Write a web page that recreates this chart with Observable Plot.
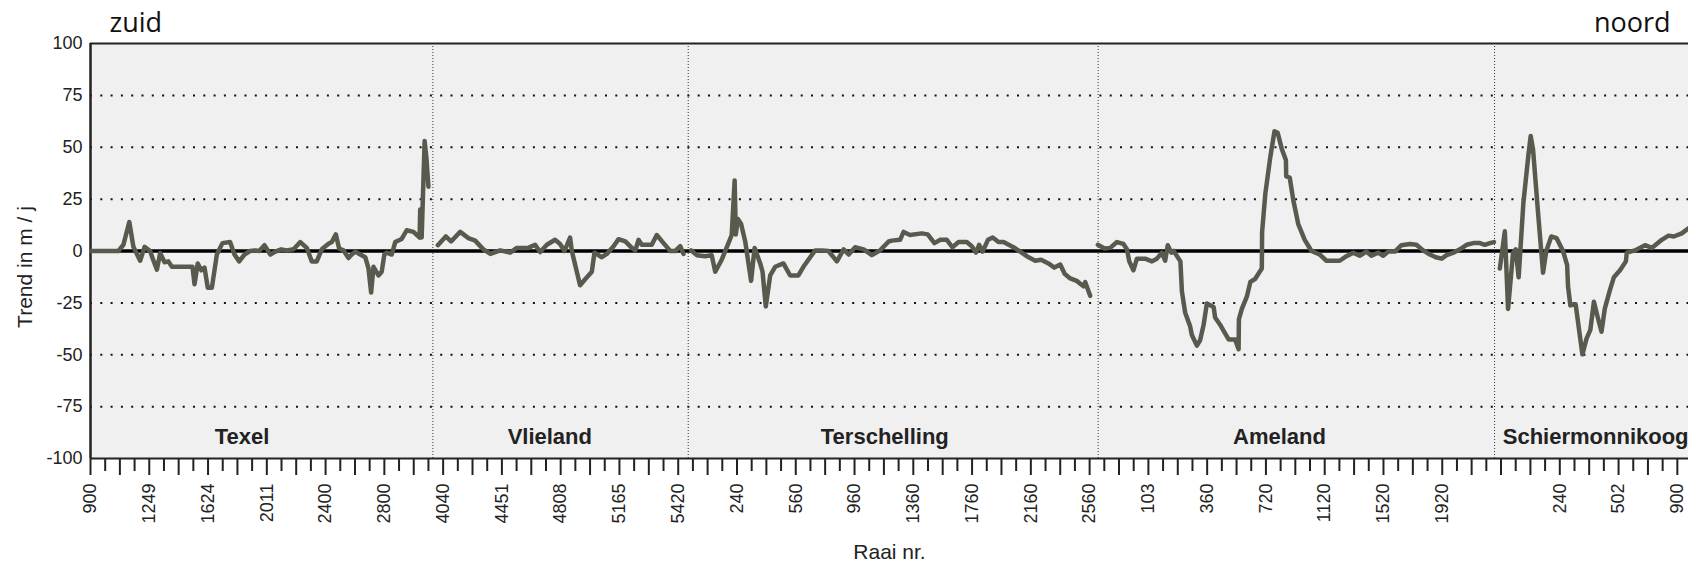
<!DOCTYPE html>
<html><head><meta charset="utf-8">
<script src="https://cdn.jsdelivr.net/npm/d3@7"></script>
<script src="https://cdn.jsdelivr.net/npm/@observablehq/plot@0.6"></script>
<style>
html,body{margin:0;padding:0;background:#fff;}
#chart{width:1688px;height:565px;overflow:hidden;}
</style></head><body><div id="chart"></div>
<script>
// x = position along the coast (category index), y = trend in m / j
const texel = [[0,0],[9.5,0],[11.2,3],[13.2,14],[14.6,2],[16.9,-4.7],[18.4,2],[20.3,0],[21.1,-3.4],[22.6,-9],[23.7,-1],[25.2,-5.4],[26.5,-5],[27.7,-7.6],[34.7,-7.6],[35.4,-16],[36.5,-6],[37.7,-9.3],[38.8,-8],[39.9,-17.7],[41.3,-17.7],[43,-1.7],[44.9,3.8],[47.5,4.3],[49,-1.7],[50.6,-5],[52.4,-1.7],[54.3,0],[56,0.3],[57.4,0],[59.2,2.8],[61.2,-1.7],[62.9,-0.3],[64.9,0.8],[66.8,0.3],[69.1,0.8],[71.4,4.3],[73.6,1.5],[75.3,-5],[77,-5],[78.7,0.8],[81,3.5],[82.1,4.3],[83.5,8],[84.6,1.2],[86.1,0.3],[87.8,-3.4],[88.9,-1.7],[90.1,-0.3],[91.8,-1.7],[93.5,-3],[94.6,-8.4],[95.5,-20],[96.3,-7.6],[98,-11.8],[99.1,-10],[100,-1.7],[100.8,-0.8],[102.5,-1.7],[103.7,4.3],[105.9,5.8],[107.6,10],[109.9,9.2],[112,6.5],[112.2,20],[112.7,6.5],[113.7,53],[114.3,45],[115,31]];
const vlieland = [[118.2,2.8],[120.9,7],[122.7,4.6],[125.8,9.2],[128.6,6.2],[130.9,5],[133.7,0.8],[136.1,-1.4],[139.4,0.3],[142.8,-0.8],[145.1,1.5],[149,1.5],[151.3,3],[153,-0.5],[155.3,3],[158.1,5.4],[159.8,3.4],[161.3,0],[163.2,6.5],[163.8,0],[166.6,-16.5],[168.4,-13.5],[170.6,-10],[171.5,-0.8],[174,-3],[175.7,-1.4],[178,2.3],[179.7,5.7],[182,4.6],[184.2,1.5],[185.4,0.3],[186.5,5.4],[187.6,3],[191,3],[192.7,7.7],[195,3.8],[197.3,0],[199,0],[200.7,2.3],[201.8,-1.4]];
const terschelling = [[204.4,0.3],[206.3,-2],[209.2,-2.5],[211.4,-2],[212.6,-10],[214.8,-4.2],[217.1,3.8],[218.2,7.7],[219.2,34],[219.6,8],[220.3,15.4],[221.4,13],[222.8,4.6],[224.8,-14.4],[226,1.5],[227.9,-6],[228.7,-10],[229.8,-26.7],[231.3,-11.8],[233,-7.6],[235.8,-6],[238.1,-11.8],[240.9,-11.8],[242.6,-7.6],[244.3,-4.2],[246.6,0.3],[248.9,0.3],[251.1,0],[254,-5],[256.3,0.8],[258,-1.7],[260.2,1.8],[263.1,0.8],[265.9,-2],[268.7,0.3],[271.6,4.6],[272.7,5],[275.5,5.4],[276.7,9.2],[278.9,7.7],[282.9,8.5],[284.9,8],[287.2,3.8],[289.2,5.4],[291.4,5.4],[293.3,1.8],[295.4,4.3],[298.2,4.3],[299.9,2.3],[301.3,-0.8],[302.4,3],[303.6,-0.3],[305.4,5.4],[307,6.5],[309,4.3],[310.7,4.3],[314.1,1.8],[316.4,-0.3],[318.6,-2.5],[321.5,-4.7],[323.5,-4.2],[326,-6],[328,-8],[330,-6.5],[331.5,-11],[333.4,-13.2],[335.6,-14.4],[337.9,-17],[338.5,-15],[340.2,-21.6]];
const ameland = [[342.8,3],[345.1,1.2],[347,1.5],[349.3,4.3],[351.5,3.4],[352.7,0.8],[353.5,-5],[354.9,-9.3],[356.1,-3.7],[358.9,-3.7],[361.2,-5],[362.9,-3.7],[364.6,-0.8],[365.7,-4.7],[366.6,2.8],[367.8,-0.8],[368.6,0],[370.9,-5],[371.4,-19.4],[372.5,-29.6],[374.2,-36.3],[374.8,-40.5],[376.5,-45.6],[377.6,-43],[378.8,-35.5],[379.9,-25.3],[382.2,-27],[382.7,-32],[384.4,-35.5],[386.1,-39.7],[387.3,-42.6],[389.5,-42.6],[390.7,-47.3],[390.8,-33],[391.8,-27.9],[393.5,-22],[394.7,-14.9],[396.3,-13.5],[398.6,-8.4],[398.7,9.2],[399.8,27.7],[401.5,45.4],[402.9,57.7],[404,57],[405.4,49.2],[406.8,43.8],[406.9,36],[408.1,35.4],[409.3,24.6],[411,13],[413.2,5.4],[415.5,0],[418.3,-1.7],[420.6,-4.7],[425.1,-4.7],[427.4,-2.5],[429.7,-0.8],[431.9,-2.3],[434.2,-0.3],[435.9,-2.3],[438.2,-0.8],[439.9,-2.3],[441.6,-0.3],[443.9,-0.3],[446.1,2.8],[449,3.4],[451.2,3],[453.5,0.3],[455.8,-1.7],[457.8,-3],[459.8,-3.7],[461.5,-2],[463.8,-0.8],[466,0.8],[468.3,3],[470.6,3.8],[472.8,3.8],[474.5,3],[476.2,3.8],[477.6,4.3]];
const schiermonnikoog = [[479.6,-8.4],[481.3,9.5],[482.4,-27.9],[484.1,-0.8],[485,0.8],[486,-12.7],[487.6,23],[489.3,46],[490.1,55.4],[490.9,49],[492.6,18.5],[494.3,-10.5],[495.4,0],[497.1,7],[498.9,6.2],[501.1,0],[502.5,-6.8],[502.8,-17],[503.6,-26.2],[505.4,-25.7],[506.8,-40.5],[507.7,-49.8],[509.1,-42.2],[510.4,-38],[511.6,-24.5],[513.1,-33],[514.2,-38.9],[515.3,-27.9],[517.1,-18.6],[518.4,-12.7],[520.5,-9.3],[522.5,-5],[522.8,-0.8],[525.6,0.3],[529,2.8],[531.3,1.5],[534.7,5.4],[537,7.4],[538.8,7],[541.5,8.5],[543.8,11]];

const islands = ["Texel", "Vlieland", "Terschelling", "Ameland", "Schiermonnikoog"];
const islandSeries = [texel, vlieland, terschelling, ameland, schiermonnikoog];
const islandLabelPos = [51.6, 156.3, 270.3, 404.6, 512.2];
const boundaries = [116.5, 203.4, 342.9, 477.8];

// raai number labels, one every 20 positions
const tickLabels = ["900","1249","1624","2011","2400","2800","4040","4451","4808","5165","5420","240","560","960","1360","1760","2160","2560","103","360","720","1120","1520","1920","","240","502","900"];
const yTicks = [100, 75, 50, 25, 0, -25, -50, -75, -100];
const gridValues = [75, 50, 25, -25, -50, -75];

const rows = [];
islandSeries.forEach((pts, k) => pts.forEach(([i, v]) => rows.push({island: islands[k], i, v})));

const labelTicks = tickLabels.map((_, k) => k * 20);
const majorTicks = d3.range(0, 541, 10);
const minorTicks = d3.range(5, 541, 10);
const ink = "#222";

const plot = Plot.plot({
  width: 1688, height: 565,
  marginLeft: 90, marginRight: 0, marginTop: 43, marginBottom: 107,
  style: {fontFamily: "'Liberation Sans', Arial, sans-serif", fontSize: "18px", color: ink, background: "white"},
  x: {domain: [0, 543.8], label: null},
  y: {domain: [-100, 100], label: null},
  marks: [
    Plot.frame({fill: "#f0f0f0", stroke: null}),
    Plot.ruleY(gridValues, {stroke: "#111", strokeWidth: 2, strokeDasharray: "2 8.3"}),
    Plot.ruleX(boundaries, {stroke: "#333", strokeWidth: 1, strokeDasharray: "1 2"}),
    Plot.ruleY([0], {stroke: "#000", strokeWidth: 3.5}),
    Plot.ruleY([100, -100], {stroke: ink, strokeWidth: 2}),
    Plot.ruleX([0], {stroke: ink, strokeWidth: 2.5}),
    Plot.line(rows, {x: "i", y: "v", z: "island", stroke: "#595a4e", strokeWidth: 4.5, strokeLinejoin: "round", strokeLinecap: "round", clip: true}),
    Plot.text(islands, {x: islandLabelPos, text: d => d, frameAnchor: "bottom", lineAnchor: "bottom", dy: -15, fontSize: 22, fontWeight: "bold", fill: ink}),
    Plot.axisY(yTicks, {tickSize: 0, tickPadding: 8, tickFormat: d => String(d), label: null, fontSize: 18}),
    Plot.axisX(labelTicks, {tickSize: 0, tickPadding: 25, tickRotate: -90, tickFormat: d => tickLabels[d / 20], label: null, fontSize: 18}),
    Plot.axisX(majorTicks, {tickSize: 17, fill: null, label: null, stroke: ink, strokeWidth: 2}),
    Plot.axisX(minorTicks, {tickSize: 13, fill: null, label: null, stroke: ink, strokeWidth: 2}),
    Plot.text(["Trend in m / j"], {frameAnchor: "middle", dx: -864, dy: 16, rotate: -90, textAnchor: "middle", lineAnchor: "middle", fontSize: 21, fill: ink}),
    Plot.text(["Raai nr."], {frameAnchor: "middle", dy: 301, textAnchor: "middle", lineAnchor: "middle", fontSize: 21, fill: ink}),
    Plot.text(["zuid"], {frameAnchor: "top-left", dx: 19, dy: -12, textAnchor: "start", lineAnchor: "bottom", fontSize: 27, fontFamily: "'Open Sans', sans-serif", fill: "#111"}),
    Plot.text(["noord"], {frameAnchor: "top-right", dx: -18, dy: -12, textAnchor: "end", lineAnchor: "bottom", fontSize: 27, fontFamily: "'Open Sans', sans-serif", fill: "#111"})
  ]
});
document.getElementById("chart").appendChild(plot);
</script></body></html>
